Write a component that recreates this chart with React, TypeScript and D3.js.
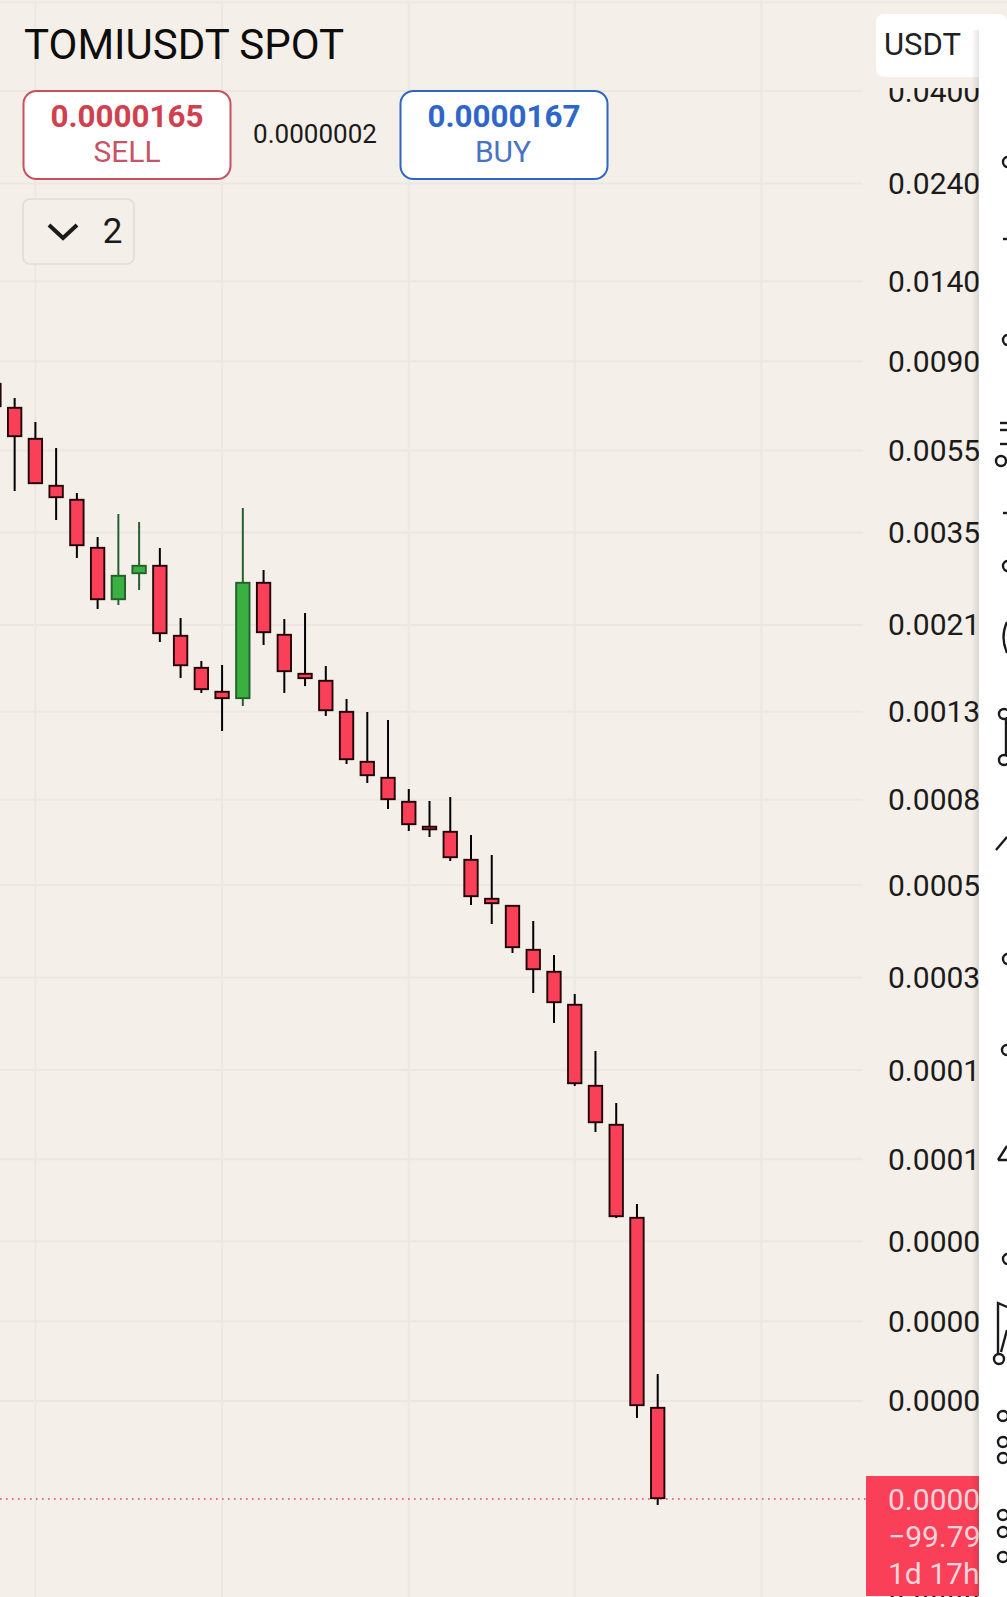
import React from "react";
import * as d3 from "d3";

const symbol = "TOMIUSDT SPOT";
const sellPrice = "0.0000165";
const buyPrice = "0.0000167";
const spread = "0.0000002";
const quote = "USDT";
const lastLabel = ["0.0000165", "\u221299.79%", "1d 17h"];

const opens = [0.007983,0.006993,0.005893,0.004547,0.004209,0.003229,0.002410,0.002782,0.002924,0.001987,0.001665,0.001459,0.001396,0.002662,0.001998,0.001611,0.001550,0.001306,0.0009912,0.0009075,0.0007949,0.0006924,0.0006736,0.0005771,0.0004654,0.0004477,0.0003512,0.0003111,0.0002593,0.0001658,0.0001337,0.00008002,0.00002804];
const highs = [0.008344,0.007349,0.006437,0.005577,0.004350,0.003412,0.003874,0.003707,0.003211,0.002182,0.001721,0.001684,0.004005,0.002844,0.002170,0.002243,0.001674,0.001396,0.001299,0.001243,0.0008493,0.0007949,0.0008126,0.0006589,0.0005900,0.0004477,0.0004099,0.0003398,0.0002740,0.0002000,0.0001501,0.00008598,0.00003364];
const lows = [0.006691,0.004399,0.004572,0.003748,0.003039,0.002293,0.002345,0.002547,0.001912,0.001567,0.001443,0.001170,0.001343,0.001880,0.001443,0.001499,0.001271,0.0009750,0.0008779,0.0007606,0.0006736,0.0006517,0.0005708,0.0004477,0.0004032,0.0003435,0.0002755,0.0002335,0.0001649,0.0001279,0.00007958,0.00002639,0.00001633];
const closes = [0.006993,0.005926,0.004572,0.004232,0.003247,0.002410,0.002767,0.002924,0.001998,0.001674,0.001467,0.001396,0.002662,0.002009,0.001620,0.001559,0.001306,0.0009967,0.0009125,0.0007993,0.0006963,0.0006773,0.0005803,0.0004680,0.0004502,0.0003532,0.0003128,0.0002607,0.0001667,0.0001344,0.00008002,0.00002820,0.00001688];

const priceTicks = [0.04,0.024,0.014,0.009,0.0055,0.0035,0.0021,0.0013,0.0008,0.0005,0.0003,0.00018,0.00011,0.00007,0.000045,0.000029,0.0000095];
const timeGridIndex = [2,11,20,28,37];

const panelCircles = [[1008,162],[1008,340],[1001,461],[1008,566],[1004,714],[1004,760],[1008,959],[1007,1050],[1008,1259],[999,1359],[1003,1416],[1003,1442],[1003,1458],[1003,1515],[1003,1532],[1003,1557]];
const panelStrokes = ["M1003 239H1007","M1000 423H1007","M1000 430H1007","M1000 444H1007","M1003 513H1007","M1007 622Q1000 637 1007 653","M1006 719V755","M996 850L1007 837","M998 1160L1007 1146M998 1160H1007","M998 1354V1303L1007 1307M1001 1352L1007 1330"];

const UI = "Roboto, sans-serif";
const BG = "#f4efe8";
const GRID = "#ece8e1";
const RED = "#fa3f58";
const GREEN = "#39b03f";

export default function App() {
  const W = 1007, H = 1597;
  const y = d3.scaleLog().domain([0.04, 0.0005]).range([91, 885]);
  const x = d3.scaleLinear().domain([0, 32]).range([-6.1, 657.7]);
  const bodyW = 13.4;
  const fmt = d3.format(".7f");
  const lastY = y(closes[closes.length - 1]);
  const candles = d3.range(opens.length).map(i => ({ i, o: opens[i], h: highs[i], l: lows[i], c: closes[i] }));
  return (
    <svg width={W} height={H} viewBox={`0 0 ${W} ${H}`} style={{ position: "fixed", left: 0, top: 0, display: "block" }} fontFamily={UI}>
      <defs>
        <linearGradient id="sh" x1="0" x2="1" y1="0" y2="0">
          <stop offset="0" stopColor="#000" stopOpacity="0" />
          <stop offset="1" stopColor="#000" stopOpacity="0.1" />
        </linearGradient>
        <clipPath id="axisClip"><rect x={870} y={88} width={120} height={H} /></clipPath>
      </defs>
      <rect width={W} height={H} fill={BG} />
      <rect width={W} height={3} y={1} fill={GRID} opacity={0.7} />
      {priceTicks.map(t => <line key={t} x1={0} x2={863} y1={y(t)} y2={y(t)} stroke={GRID} strokeWidth={2} />)}
      {timeGridIndex.map(i => <line key={i} x1={x(i)} x2={x(i)} y1={0} y2={H} stroke={GRID} strokeWidth={2} />)}
      <line x1={0} x2={866} y1={lastY} y2={lastY} stroke="#e8475c" strokeWidth={1.6} strokeDasharray="1.6 4.4" />
      {candles.map(d => {
        const up = d.c > d.o;
        const top = y(Math.max(d.o, d.c)), bot = y(Math.min(d.o, d.c));
        const edge = up ? "#23602e" : "#220508";
        const h = Math.max(bot - top - 1.6, 2.6);
        return (
          <g key={d.i}>
            <line x1={x(d.i)} x2={x(d.i)} y1={y(d.h)} y2={y(d.l)} stroke={up ? "#24612f" : "#000"} strokeWidth={2} />
            <rect x={x(d.i) - bodyW / 2} y={(top + bot) / 2 - h / 2} width={bodyW} height={h} fill={up ? GREEN : RED} stroke={edge} strokeWidth={1.9} />
          </g>
        );
      })}

      <g clipPath="url(#axisClip)">
        {priceTicks.map(t => <text key={t} x={888} y={y(t) + 10.5} fontSize={30} fill="#1b1b1b">{fmt(t)}</text>)}
      </g>

      <rect x={866} y={1476} width={120} height={120} fill={RED} />
      {lastLabel.map((s, i) => <text key={s} x={888} y={1510 + i * 37} fontSize={30} fill="#ffd5da">{s}</text>)}

      <text x={24} y={59} fontSize={42} fill="#0d0d0d">{symbol}</text>

      <rect x={23.5} y={91} width={207} height={88} rx={13} fill="#fff" stroke="#c9505f" strokeWidth={2} />
      <text x={127} y={127} textAnchor="middle" fontSize={31.4} fontWeight={700} fill="#d0404f">{sellPrice}</text>
      <text x={127} y={162} textAnchor="middle" fontSize={30} fill="#c65468">SELL</text>
      <text x={315} y={143} textAnchor="middle" fontSize={26} fill="#1a1a1a">{spread}</text>
      <rect x={400.5} y={91} width={207} height={88} rx={13} fill="#fff" stroke="#2f66c4" strokeWidth={2} />
      <text x={504} y={127} textAnchor="middle" fontSize={31.4} fontWeight={700} fill="#2f66cc">{buyPrice}</text>
      <text x={503} y={162} textAnchor="middle" fontSize={30} fill="#4a74c2">BUY</text>

      <rect x={23} y={199} width={111} height={65} rx={7} fill={BG} stroke="#e0ddd7" strokeWidth={1.6} />
      <path d="M49 225L63 238L77 225" fill="none" stroke="#1a1a1a" strokeWidth={4} />
      <text x={112.5} y={242.5} textAnchor="middle" fontSize={35} fill="#1a1a1a">2</text>

      <rect x={876} y={14} width={131} height={63} rx={8} fill="#fff" />
      <text x={884} y={55} fontSize={31} fill="#222">{quote}</text>

      <rect x={971} y={30} width={8} height={H} fill="url(#sh)" />
      <path d={`M979 ${H}V38Q979 26 991 26H${W}V${H}Z`} fill="#fff" />
      {panelCircles.map(([cx, cy], i) => <circle key={i} cx={cx} cy={cy} r={5} fill="none" stroke="#1a1a1a" strokeWidth={2.4} />)}
      {panelStrokes.map((d, i) => <path key={i} d={d} fill="none" stroke="#1a1a1a" strokeWidth={2.4} />)}
    </svg>
  );
}
